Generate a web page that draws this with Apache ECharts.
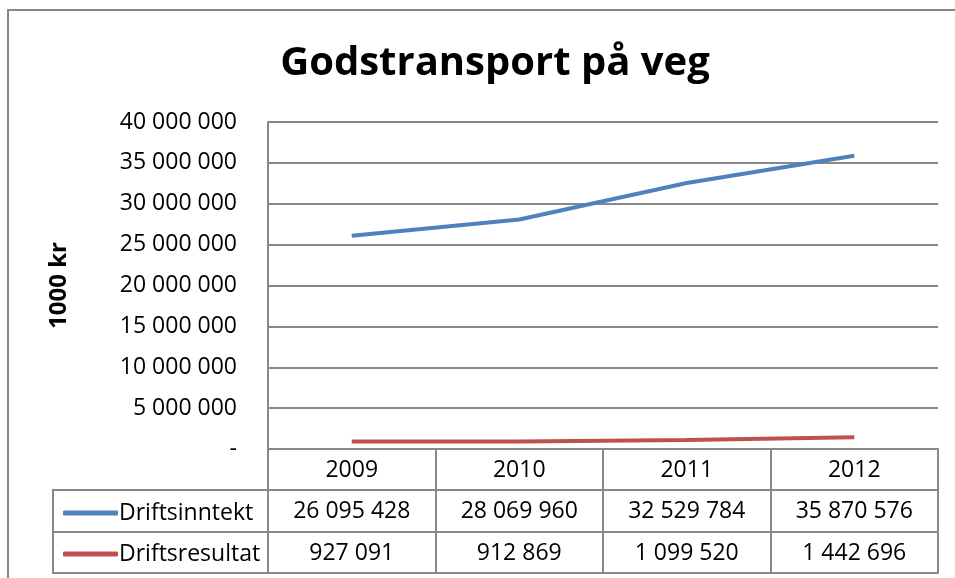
<!DOCTYPE html>
<html>
<head>
<meta charset="utf-8">
<script src="https://cdn.jsdelivr.net/npm/echarts@6/dist/echarts.min.js"></script>
<style>
  html, body { margin: 0; padding: 0; background: #fff; }
  #chart { width: 955px; height: 578px; }
</style>
</head>
<body>
<div id="chart"></div>
<script>
// data
const years = ['2009', '2010', '2011', '2012']
const driftsinntekt = [26095428, 28069960, 32529784, 35870576]
const driftsresultat = [927091, 912869, 1099520, 1442696]
const seriesNames = ['Driftsinntekt', 'Driftsresultat']

const FONT = 'Open Sans'
const GRID_COLOR = '#888888'

// tall med mellomrom som tusenskille
const fmt = v => v === 0 ? '-' : String(v).replace(/\B(?=(\d{3})+(?!\d))/g, ' ')

const chart = echarts.init(document.getElementById('chart'))

// felles oppsett for tabellradene (x-akser under plottet)
const tableAxis = (offset, labelFn, showLabel) => ({
  type: 'category',
  data: years,
  position: 'bottom',
  offset: offset,
  axisLine: { show: true, lineStyle: { color: GRID_COLOR, width: 2 } },
  axisTick: { show: showLabel, length: 41, interval: 0, lineStyle: { color: GRID_COLOR, width: 2 } },
  axisLabel: {
    show: showLabel,
    interval: 0,
    margin: 9,
    color: '#000',
    fontFamily: FONT,
    fontSize: 23,
    lineHeight: 24,
    formatter: labelFn
  },
  splitLine: { show: false }
})

const option = {
  backgroundColor: '#fff',
  animation: false,
  title: {
    text: 'Godstransport på veg',
    left: 490,
    textAlign: 'center',
    top: 39,
    textStyle: { fontFamily: FONT, fontWeight: 'bold', fontSize: 40, color: '#000' }
  },
  legend: {
    orient: 'vertical',
    left: 58,
    top: 496,
    itemWidth: 55,
    itemHeight: 5,
    itemGap: 17,
    icon: 'roundRect',
    data: seriesNames,
    textStyle: { fontFamily: FONT, fontSize: 23, lineHeight: 24, color: '#000', padding: [0, 0, 0, -4] }
  },
  grid: { left: 268, right: 17, top: 122, bottom: 129 },
  xAxis: [
    tableAxis(0, v => v, true),
    tableAxis(41, (v, i) => fmt(driftsinntekt[i]), true),
    tableAxis(83, (v, i) => fmt(driftsresultat[i]), true),
    tableAxis(124, v => '', false)
  ],
  yAxis: {
    type: 'value',
    min: 0,
    max: 40000000,
    interval: 5000000,
    name: '1000 kr',
    nameLocation: 'middle',
    nameRotate: 90,
    nameGap: 197,
    nameTextStyle: { fontFamily: FONT, fontWeight: 'bold', fontSize: 24, color: '#000' },
    axisLine: { show: true, lineStyle: { color: GRID_COLOR, width: 2 } },
    axisTick: { show: false },
    axisLabel: { margin: 31, color: '#000', fontFamily: FONT, fontSize: 23, formatter: fmt },
    splitLine: { lineStyle: { color: GRID_COLOR, width: 2 } }
  },
  series: [
    {
      name: seriesNames[0],
      type: 'line',
      data: driftsinntekt,
      showSymbol: false,
      lineStyle: { width: 4, color: '#4F81BD' },
      itemStyle: { color: '#4F81BD' }
    },
    {
      name: seriesNames[1],
      type: 'line',
      data: driftsresultat,
      showSymbol: false,
      lineStyle: { width: 4, color: '#C0504D' },
      itemStyle: { color: '#C0504D' }
    }
  ],
  graphic: [
    // ytre ramme
    {
      type: 'rect',
      shape: { x: 8, y: 10, width: 980, height: 600 },
      style: { fill: 'none', stroke: GRID_COLOR, lineWidth: 2 },
      silent: true
    },
    // forklaringsceller i tabellen
    {
      type: 'rect',
      shape: { x: 53, y: 490, width: 215, height: 83 },
      style: { fill: 'none', stroke: GRID_COLOR, lineWidth: 2 },
      silent: true
    },
    {
      type: 'line',
      shape: { x1: 53, y1: 532, x2: 268, y2: 532 },
      style: { stroke: GRID_COLOR, lineWidth: 2 },
      silent: true
    }
  ]
}

chart.setOption(option)
</script>
</body>
</html>
